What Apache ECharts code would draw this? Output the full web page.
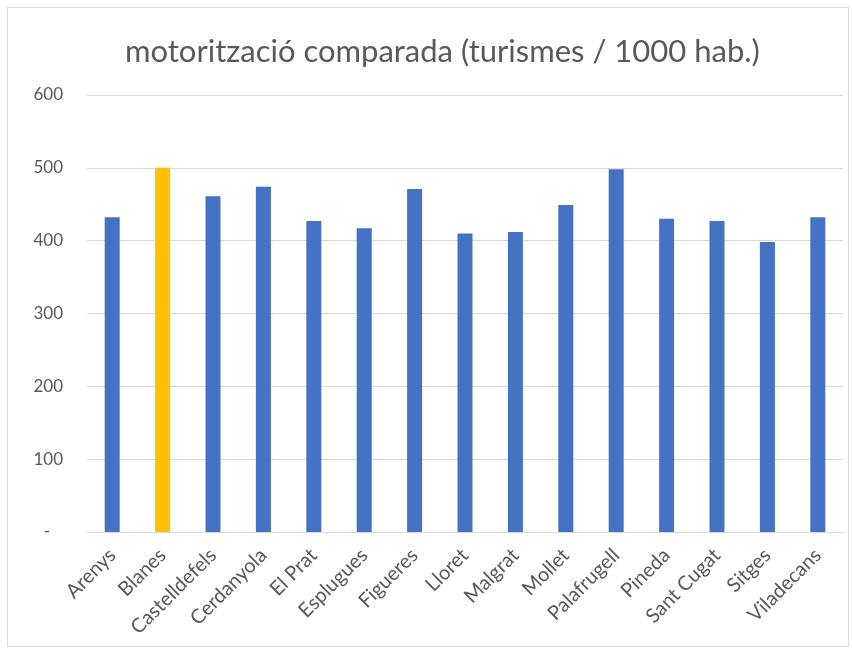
<!DOCTYPE html>
<html>
<head>
<meta charset="utf-8">
<script src="https://cdn.jsdelivr.net/npm/echarts@6/dist/echarts.min.js"></script>
<style>
  html, body { margin: 0; padding: 0; background: #fff; }
  #frame { position: absolute; left: 7px; top: 7px; width: 842px; height: 640px; border: 1px solid #d9d9d9; box-sizing: border-box; }
  #chart { position: absolute; left: 0; top: 0; width: 852px; height: 652px; }
</style>
</head>
<body>
<div id="frame"></div>
<div id="chart"></div>
<script>
const municipis = ['Arenys', 'Blanes', 'Castelldefels', 'Cerdanyola', 'El Prat', 'Esplugues', 'Figueres',
  'Lloret', 'Malgrat', 'Mollet', 'Palafrugell', 'Pineda', 'Sant Cugat', 'Sitges', 'Viladecans'];
const turismes = [432, 500, 461, 474, 427, 417, 471, 410, 412, 449, 498, 430, 427, 398, 432];
const destacat = 'Blanes';

const chart = echarts.init(document.getElementById('chart'));

const option = {
  animation: false,
  title: {
    text: 'motorització comparada (turismes / 1000 hab.)',
    left: 120,
    top: 31,
    textStyle: { fontFamily: 'Lato', fontWeight: 'normal', fontSize: 31, color: '#595959' }
  },
  grid: { left: 87, right: 9, top: 95, bottom: 120 },
  xAxis: {
    type: 'category',
    data: municipis,
    axisLine: { lineStyle: { color: '#d9d9d9' } },
    axisTick: { show: false },
    axisLabel: {
      rotate: 45,
      interval: 0,
      fontFamily: 'Lato',
      fontSize: 20,
      color: '#595959',
      margin: 20
    }
  },
  yAxis: {
    type: 'value',
    min: 0,
    max: 600,
    interval: 100,
    axisLine: { show: false },
    axisTick: { show: false },
    splitLine: { lineStyle: { color: '#d9d9d9' } },
    axisLabel: {
      fontFamily: 'Lato',
      fontSize: 17,
      color: '#595959',
      margin: 24,
      formatter: v => (v === 0 ? '-   ' : v)
    }
  },
  series: [{
    type: 'bar',
    barWidth: 15,
    data: turismes.map((v, i) => ({
      value: v,
      itemStyle: { color: municipis[i] === destacat ? '#FFC000' : '#4472C4' }
    }))
  }]
};

chart.setOption(option);
</script>
</body>
</html>
